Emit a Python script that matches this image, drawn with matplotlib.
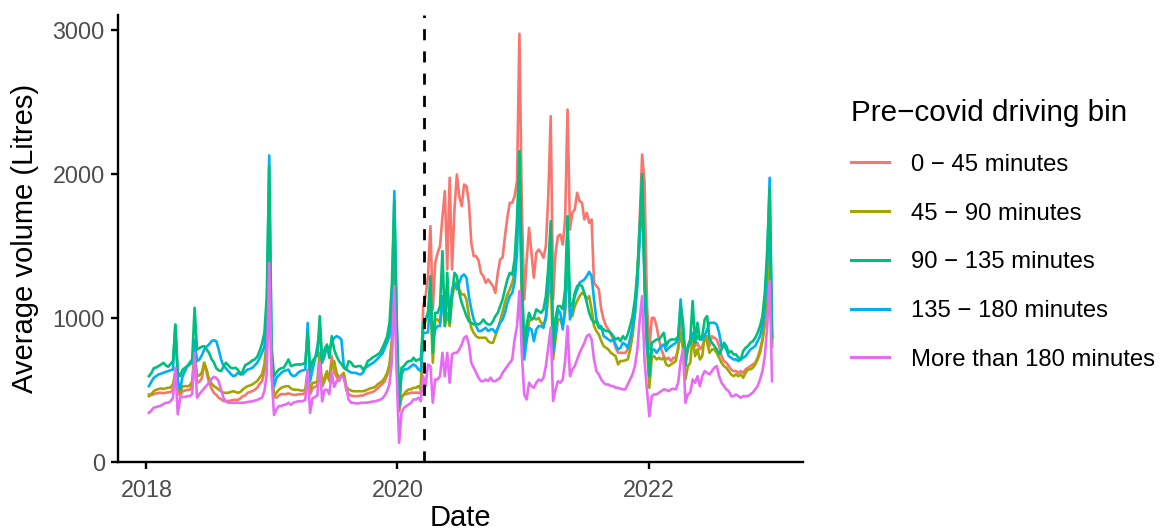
import pandas as pd
import matplotlib
matplotlib.use('Agg')
import matplotlib.pyplot as plt

plt.rcParams['font.family'] = ['Liberation Sans', 'DejaVu Sans']

# weekly dates, one row per week
weeks = pd.date_range('2018-01-08', periods=260, freq='7D')
lockdown = pd.Timestamp('2020-03-17')

bins = ['0 \u2212 45 minutes', '45 \u2212 90 minutes', '90 \u2212 135 minutes',
        '135 \u2212 180 minutes', 'More than 180 minutes']
colours = ['#F8766D', '#A3A500', '#00BF7D', '#00B0F6', '#E76BF3']

# average volume (litres) per week, one line per year 2018..2022
vol_0_45 = (
    [468, 462, 470, 475, 478, 480, 476, 480, 482, 485, 500, 595, 480, 460, 490, 495, 500, 500, 530, 740,
     550, 555, 580, 688, 620, 550, 510, 479, 465, 445, 435, 422, 422, 422, 425, 430, 430, 430, 440, 456,
     460, 479, 485, 491, 500, 514, 540, 560, 620, 800, 1350, 600] +
    [450, 445, 460, 470, 470, 470, 475, 470, 465, 465, 468, 470, 470, 480, 600, 470, 510, 520, 530, 700,
     525, 560, 600, 580, 734, 620, 590, 560, 600, 600, 502, 470, 460, 456, 456, 456, 460, 460, 470, 475,
     480, 485, 495, 510, 525, 540, 560, 600, 650, 800, 1350, 700] +
    [350, 456, 468, 470, 475, 480, 480, 480, 480, 475, 1082, 1150, 1290, 1638, 1059, 1383, 1450, 1499, 1700, 1881,
     1337, 1974, 1337, 1754, 1997, 1846, 1777, 1927, 1916, 1800, 1522, 1429, 1429, 1400, 1313, 1290, 1244, 1267, 1244, 1221,
     1174, 1313, 1406, 1420, 1568, 1700, 1800, 1800, 1846, 1950, 2975, 1754] +
    [1128, 1400, 1626, 1452, 1279, 1452, 1475, 1452, 1418, 1499, 1850, 2402, 1128, 1450, 1568, 1580, 1510, 1684, 2448, 1614,
     1730, 1754, 1869, 1811, 1800, 1684, 1730, 1660, 1684, 1244, 1221, 1200, 1059, 989, 943, 920, 885, 850, 792, 757,
     757, 757, 757, 780, 850, 920, 1035, 1267, 1684, 2136, 1939, 1100] +
    [781, 1000, 1000, 943, 850, 781, 734, 711, 723, 700, 723, 723, 781, 966, 804, 688, 781, 827, 850, 804,
     827, 781, 804, 850, 873, 804, 873, 861, 850, 804, 734, 700, 688, 665, 642, 630, 630, 618, 630, 618,
     642, 653, 665, 676, 688, 723, 781, 850, 966, 1174, 1550, 800]
)

vol_45_90 = (
    [456, 470, 490, 500, 505, 510, 505, 510, 515, 515, 540, 620, 520, 479, 525, 525, 525, 530, 560, 780,
     595, 600, 620, 688, 640, 572, 545, 525, 515, 502, 490, 479, 479, 479, 485, 490, 485, 479, 485, 502,
     515, 525, 530, 537, 550, 560, 585, 606, 676, 850, 1450, 650] +
    [456, 479, 500, 514, 520, 525, 525, 510, 502, 500, 500, 495, 495, 500, 640, 495, 549, 549, 560, 757,
     525, 583, 630, 560, 676, 700, 618, 583, 600, 618, 525, 502, 495, 490, 490, 490, 490, 490, 495, 502,
     510, 514, 520, 537, 549, 560, 583, 618, 676, 850, 1500, 800] +
    [360, 445, 468, 491, 503, 503, 514, 514, 526, 503, 943, 977, 1035, 1151, 688, 989, 989, 966, 1150, 943,
     1035, 943, 1150, 1221, 1244, 1198, 1163, 1163, 1128, 1012, 931, 896, 873, 862, 862, 862, 862, 838, 827, 827,
     873, 920, 980, 1040, 1110, 1160, 1198, 1244, 1313, 1591, 1900, 1100] +
    [757, 850, 977, 989, 1000, 989, 1000, 966, 954, 989, 1150, 1337, 711, 850, 989, 989, 943, 1035, 1400, 1035,
     1012, 1082, 1117, 1151, 1174, 1163, 1128, 1151, 1059, 943, 908, 885, 838, 804, 792, 780, 757, 745, 734, 676,
     700, 700, 705, 711, 780, 873, 1035, 1313, 1550, 1850, 1300, 800] +
    [514, 723, 734, 711, 723, 711, 723, 676, 665, 676, 688, 700, 800, 896, 781, 572, 665, 688, 873, 734,
     781, 711, 734, 885, 827, 757, 781, 781, 757, 723, 688, 665, 653, 630, 607, 595, 607, 595, 607, 584,
     618, 642, 642, 653, 676, 711, 757, 838, 966, 1198, 1600, 830]
)

vol_90_135 = (
    [595, 615, 650, 655, 665, 675, 688, 670, 660, 680, 700, 954, 620, 595, 640, 653, 665, 690, 711, 1070,
     780, 790, 800, 803, 780, 757, 715, 690, 650, 635, 630, 660, 688, 670, 653, 650, 653, 640, 607, 630,
     670, 680, 690, 705, 711, 730, 769, 820, 896, 1150, 2055, 800] +
    [595, 620, 641, 650, 653, 680, 711, 665, 670, 676, 676, 676, 680, 688, 896, 641, 700, 722, 740, 1012,
     711, 780, 815, 722, 873, 780, 734, 700, 680, 653, 641, 699, 690, 665, 660, 665, 665, 641, 660, 700,
     711, 725, 734, 745, 757, 790, 827, 870, 966, 1240, 1811, 1000] +
    [400, 653, 665, 688, 700, 700, 723, 700, 711, 711, 966, 989, 1035, 1290, 757, 1035, 1035, 1082, 1464, 943,
     1313, 966, 1150, 1313, 1290, 1174, 1105, 1059, 1012, 977, 966, 954, 960, 954, 966, 989, 966, 954, 954, 977,
     1012, 1035, 1082, 1128, 1200, 1267, 1313, 1300, 1406, 1684, 2159, 1300] +
    [815, 950, 1035, 989, 1000, 1059, 1047, 1035, 1059, 1150, 1350, 1672, 804, 1000, 1082, 1082, 1059, 1200, 1707, 1105,
     1082, 1174, 1221, 1232, 1220, 1174, 1105, 1035, 990, 966, 977, 931, 925, 920, 908, 908, 896, 873, 850, 861,
     838, 873, 850, 885, 943, 1012, 1128, 1313, 1638, 2000, 1300, 900] +
    [595, 827, 838, 850, 850, 873, 896, 804, 838, 850, 850, 850, 873, 1082, 966, 665, 804, 850, 1117, 827,
     966, 850, 873, 989, 1012, 850, 827, 804, 781, 746, 781, 827, 804, 757, 769, 746, 746, 723, 711, 769,
     792, 804, 827, 838, 861, 896, 943, 1012, 1174, 1476, 1904, 860]
)

vol_135_180 = (
    [525, 555, 583, 595, 607, 612, 618, 625, 630, 636, 641, 950, 560, 502, 595, 630, 665, 676, 690, 850,
     699, 711, 740, 780, 800, 815, 838, 845, 838, 780, 711, 665, 650, 630, 610, 595, 600, 618, 610, 607,
     625, 641, 645, 653, 670, 688, 720, 757, 800, 1000, 2129, 700] +
    [525, 583, 600, 618, 630, 635, 641, 607, 595, 600, 618, 630, 635, 641, 965, 560, 640, 711, 800, 900,
     688, 734, 803, 780, 830, 861, 873, 865, 850, 665, 641, 630, 620, 618, 618, 610, 607, 620, 653, 665,
     676, 685, 699, 715, 734, 750, 790, 830, 873, 1100, 1881, 900] +
    [380, 607, 642, 642, 650, 665, 676, 665, 642, 630, 896, 896, 900, 1150, 850, 920, 943, 943, 1150, 989,
     1200, 1000, 1198, 1244, 1198, 1244, 1290, 1302, 1279, 1151, 1059, 989, 943, 908, 908, 920, 931, 908, 920, 920,
     896, 931, 966, 989, 1035, 1105, 1151, 1174, 1244, 1452, 2050, 1250] +
    [711, 850, 931, 920, 838, 920, 943, 943, 931, 1012, 1250, 1600, 757, 900, 1059, 1035, 920, 1080, 1600, 989,
     1059, 1151, 1198, 1244, 1255, 1267, 1290, 1320, 1290, 1128, 989, 943, 943, 873, 862, 850, 838, 850, 815, 780,
     792, 827, 815, 792, 850, 931, 1035, 1221, 1568, 1950, 1200, 800] +
    [650, 769, 781, 757, 781, 804, 815, 769, 792, 804, 815, 827, 850, 1128, 919, 734, 792, 827, 896, 827,
     873, 850, 850, 873, 920, 966, 966, 966, 954, 896, 804, 804, 781, 734, 723, 711, 711, 700, 711, 723,
     734, 757, 781, 792, 804, 838, 873, 943, 1082, 1383, 1974, 870]
)

vol_180_plus = (
    [340, 355, 376, 380, 385, 390, 400, 410, 410, 420, 445, 653, 330, 445, 450, 450, 456, 456, 470, 757,
     445, 470, 490, 510, 530, 550, 575, 590, 583, 560, 500, 445, 420, 410, 410, 410, 410, 410, 410, 410,
     412, 415, 418, 420, 425, 430, 438, 445, 491, 606, 1383, 600] +
    [325, 363, 387, 387, 395, 398, 410, 395, 410, 415, 420, 420, 421, 430, 630, 340, 440, 450, 460, 688,
     420, 500, 500, 470, 618, 520, 560, 580, 595, 580, 520, 433, 410, 410, 405, 405, 410, 410, 410, 412,
     415, 418, 420, 425, 430, 440, 460, 490, 540, 700, 1221, 600] +
    [132, 340, 375, 387, 398, 410, 433, 433, 445, 421, 595, 526, 676, 665, 410, 572, 572, 595, 757, 595,
     757, 549, 746, 757, 757, 780, 815, 861, 873, 815, 688, 653, 618, 584, 560, 560, 572, 560, 584, 560,
     560, 572, 584, 618, 642, 665, 688, 711, 850, 943, 1186, 750] +
    [468, 433, 549, 526, 514, 549, 572, 560, 584, 665, 800, 931, 422, 500, 560, 549, 572, 700, 943, 595,
     642, 665, 711, 757, 792, 827, 873, 885, 850, 711, 630, 607, 572, 549, 537, 537, 526, 526, 514, 514,
     507, 503, 503, 537, 572, 607, 665, 780, 989, 1151, 700, 500] +
    [317, 456, 468, 468, 480, 491, 503, 500, 491, 503, 507, 503, 550, 700, 781, 410, 468, 480, 572, 549,
     595, 526, 595, 630, 618, 607, 630, 653, 665, 595, 549, 526, 503, 491, 456, 456, 468, 456, 445, 456,
     456, 456, 468, 480, 503, 526, 572, 630, 734, 943, 1255, 560]
)

series = [vol_0_45, vol_45_90, vol_90_135, vol_135_180, vol_180_plus]
draw_order = [1, 2, 4, 3, 5]  # green sits over blue in the original

fig = plt.figure(figsize=(11.75, 5.31), dpi=100)
ax = fig.add_axes([0.1004, 0.1299, 0.5830, 0.8418])

handles = []
for vals, lab, col, z in zip(series, bins, colours, draw_order):
    ln, = ax.plot(weeks, vals, color=col, lw=1.9, label=lab, zorder=z,
                  solid_joinstyle='round')
    handles.append(ln)

ax.axvline(lockdown, color='black', lw=2.0, ls=(0, (4, 4)), zorder=6)

ax.set_xlim(pd.Timestamp('2017-10-10'), pd.Timestamp('2023-03-26'))
ax.set_ylim(-2, 3105)
ax.set_xticks([pd.Timestamp('2018-01-01'), pd.Timestamp('2020-01-01'), pd.Timestamp('2022-01-01')])
ax.set_xticklabels(['2018', '2020', '2022'])
ax.set_yticks([0, 1000, 2000, 3000])
ax.set_yticklabels(['0', '1000', '2000', '3000'])

for s in ['top', 'right']:
    ax.spines[s].set_visible(False)
for s in ['left', 'bottom']:
    ax.spines[s].set_linewidth(1.7)
ax.tick_params(axis='both', length=5.2, width=1.7, color='black',
               labelsize=16.8, labelcolor='#4D4D4D')
ax.tick_params(axis='y', pad=4.2)
ax.tick_params(axis='x', pad=7)

ax.set_xlabel('Date', fontsize=21)
ax.set_ylabel('Average volume (Litres)', fontsize=21)
ax.xaxis.set_label_coords(0.5, -0.0933)
ax.yaxis.set_label_coords(-0.1153, 0.5)

leg = ax.legend(handles=handles, labels=bins, title='Pre\u2212covid driving bin',
                loc='upper left', bbox_to_anchor=(851 / 1175, 1 - 99 / 531),
                bbox_transform=fig.transFigure, frameon=False,
                fontsize=17.2, title_fontsize=21.3, handlelength=1.6,
                handletextpad=0.9, labelspacing=1.12, borderpad=0,
                borderaxespad=0, alignment='left')
for h in leg.get_lines():
    h.set_linewidth(2.2)

fig.savefig('out.png', dpi=100)
